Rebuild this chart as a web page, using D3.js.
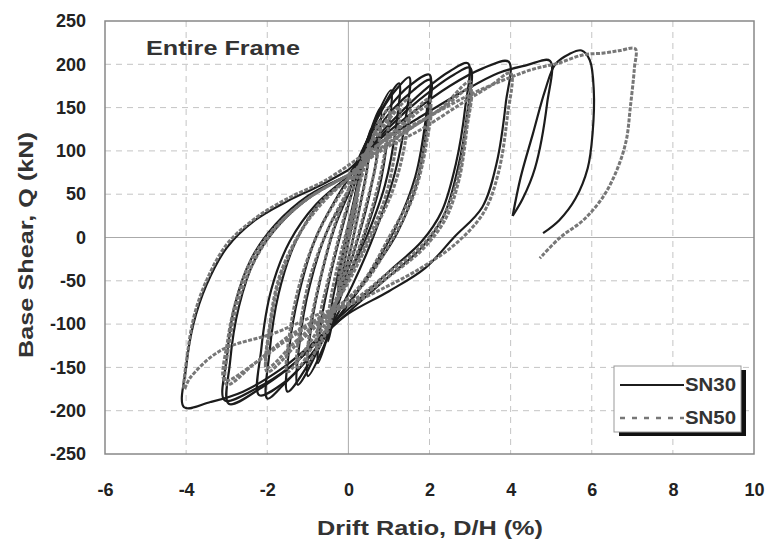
<!DOCTYPE html>
<html>
<head>
<meta charset="utf-8">
<script src="https://cdn.jsdelivr.net/npm/d3@7"></script>
<style>
  body { margin: 0; background: #fff; }
  text { font-family: "Liberation Sans", Arial, sans-serif; font-weight: bold; }
</style>
</head>
<body>
<div id="graphe"></div>
<script>
// ticks
var xTicks = [-6, -4, -2, 0, 2, 4, 6, 8, 10];
var yTicks = [-250, -200, -150, -100, -50, 0, 50, 100, 150, 200, 250];
var seriesNames = ["SN30", "SN50"];

// SN30 : cycles (drift %, shear kN)
var sn30 = [
  [[0,0],[0.12,35],[0.25,70],[0.18,35],[0.0,-5],[-0.12,-35],[-0.25,-65],[-0.18,-30],[0.0,5]],
  [[0,5],[0.2,55],[0.4,100],[0.55,125],[0.48,85],[0.3,40],[0.05,-15],[-0.2,-60],[-0.4,-100],[-0.5,-120],[-0.42,-80],[-0.22,-35],[0.0,15]],
  [[0,15],[0.3,75],[0.6,130],[0.8,150],[0.72,100],[0.5,45],[0.15,-15],[-0.25,-70],[-0.55,-120],[-0.75,-145],[-0.68,-100],[-0.45,-45],[-0.1,20]],
  [[-0.1,20],[0.3,85],[0.7,140],[1.05,170],[0.98,120],[0.75,55],[0.3,-10],[-0.2,-70],[-0.6,-125],[-1.0,-160],[-0.95,-115],[-0.72,-55],[-0.35,10],[0,50]],
  [[0,50],[0.4,105],[0.85,150],[1.25,178],[1.18,130],[0.9,60],[0.4,-5],[-0.2,-65],[-0.7,-125],[-1.25,-170],[-1.2,-120],[-0.95,-55],[-0.5,10],[0,50]],
  [[0,50],[0.35,100],[0.8,145],[1.2,172],[1.5,185],[1.42,140],[1.15,75],[0.65,5],[0.1,-55],[-0.4,-100],[-0.9,-140],[-1.5,-178],[-1.45,-125],[-1.22,-65],[-0.8,0],[-0.3,45],[0.1,75]],
  [[0.1,75],[0.5,115],[1.0,150],[1.5,175],[2.0,188],[1.93,145],[1.65,70],[1.15,10],[0.4,-50],[-0.3,-95],[-1.0,-140],[-1.6,-170],[-2.0,-186],[-1.95,-135],[-1.72,-65],[-1.3,-5],[-0.7,40],[0,70]],
  [[0,70],[0.5,110],[1.1,148],[1.6,170],[2.02,182],[1.95,135],[1.7,65],[1.2,5],[0.5,-45],[-0.2,-90],[-0.9,-135],[-1.6,-168],[-2.2,-182],[-2.15,-130],[-1.9,-60],[-1.45,-5],[-0.8,38],[0,70]],
  [[0,70],[0.6,110],[1.3,145],[2.0,175],[2.5,192],[2.95,201],[2.88,150],[2.65,85],[2.3,30],[1.8,-5],[1.1,-35],[0.3,-70],[-0.4,-100],[-1.2,-140],[-2.1,-172],[-2.95,-192],[-2.92,-145],[-2.7,-80],[-2.3,-25],[-1.7,15],[-0.9,48],[0,72]],
  [[0,72],[0.7,112],[1.4,145],[2.1,172],[2.6,188],[3.0,196],[2.92,140],[2.7,80],[2.35,25],[1.8,-12],[1.0,-45],[0.2,-78],[-0.5,-108],[-1.4,-148],[-2.3,-175],[-3.05,-188],[-3.0,-140],[-2.8,-78],[-2.4,-25],[-1.8,15],[-1.0,48],[0,72]],
  [[0,72],[0.7,110],[1.6,145],[2.5,175],[3.3,195],[3.95,203],[3.88,155],[3.65,85],[3.3,35],[2.6,0],[1.9,-35],[1.0,-62],[0,-88],[-0.7,-115],[-1.6,-150],[-2.6,-178],[-3.4,-190],[-4.05,-196],[-4.0,-150],[-3.82,-100],[-3.5,-55],[-3.0,-12],[-2.3,20],[-1.5,42],[-0.7,60],[0,78]],
  [[0,78],[0.8,110],[1.8,140],[2.8,168],[3.7,190],[4.4,199],[4.97,204],[4.9,155],[4.6,80],[4.3,45],[4.05,25]],
  [[4.05,25],[4.25,70],[4.55,120],[4.85,170],[5.1,200],[5.45,212],[5.75,216],[5.95,205],[6.05,170],[6.02,120],[5.9,80],[5.6,45],[5.2,20],[4.8,5]]
];

// SN50
var sn50 = [
  [[0,0],[0.12,30],[0.25,60],[0.17,28],[0,-5],[-0.12,-30],[-0.25,-58],[-0.17,-25],[0,5]],
  [[0,5],[0.2,50],[0.4,90],[0.52,110],[0.45,75],[0.28,35],[0.02,-20],[-0.22,-60],[-0.42,-95],[-0.52,-110],[-0.45,-75],[-0.25,-30],[0,15]],
  [[0,15],[0.3,65],[0.6,115],[0.78,135],[0.7,90],[0.45,40],[0.1,-20],[-0.3,-70],[-0.6,-115],[-0.78,-130],[-0.7,-90],[-0.45,-40],[-0.1,25]],
  [[-0.1,25],[0.3,80],[0.7,125],[1.0,150],[0.92,105],[0.65,45],[0.2,-20],[-0.3,-75],[-0.7,-120],[-1.0,-145],[-0.93,-100],[-0.68,-45],[-0.3,20],[0,55]],
  [[0,55],[0.4,95],[0.85,130],[1.25,150],[1.17,105],[0.9,45],[0.35,-15],[-0.2,-65],[-0.7,-110],[-1.25,-150],[-1.18,-100],[-0.92,-42],[-0.45,15],[0,55]],
  [[0,55],[0.4,95],[0.9,130],[1.5,160],[1.42,115],[1.1,55],[0.5,-5],[-0.1,-60],[-0.6,-95],[-1.0,-125],[-1.5,-155],[-1.43,-105],[-1.15,-45],[-0.7,10],[-0.2,50],[0.2,75]],
  [[0.2,75],[0.7,105],[1.3,130],[2.0,160],[1.93,120],[1.6,55],[1.0,0],[0.3,-55],[-0.5,-90],[-1.2,-120],[-2.0,-155],[-1.95,-110],[-1.7,-50],[-1.25,0],[-0.7,40],[0,68]],
  [[0,68],[0.6,100],[1.3,128],[2.0,152],[1.93,110],[1.62,50],[1.05,-5],[0.3,-58],[-0.5,-88],[-1.3,-120],[-2.0,-150],[-1.95,-105],[-1.7,-45],[-1.2,5],[-0.6,42],[0,68]],
  [[0,68],[0.7,100],[1.5,125],[2.3,150],[3.0,180],[2.9,130],[2.7,70],[2.35,25],[1.8,-10],[1.0,-40],[0.2,-70],[-0.6,-90],[-1.5,-115],[-2.3,-145],[-3.0,-170],[-2.95,-125],[-2.72,-75],[-2.35,-30],[-1.8,10],[-1.0,45],[0,72]],
  [[0,72],[0.8,102],[1.6,128],[2.4,152],[3.0,172],[2.92,125],[2.72,65],[2.38,20],[1.8,-15],[1.0,-45],[0.2,-72],[-0.6,-92],[-1.5,-118],[-2.3,-145],[-3.05,-165],[-2.98,-120],[-2.75,-70],[-2.38,-25],[-1.8,12],[-1.0,45],[0,72]],
  [[0,72],[0.8,100],[1.8,125],[2.8,155],[3.5,175],[4.0,190],[3.92,140],[3.7,75],[3.35,30],[2.7,-5],[1.8,-35],[0.8,-60],[-0.1,-80],[-0.7,-88],[-1.8,-110],[-3.17,-131],[-3.9,-162],[-4.05,-175],[-3.97,-135],[-3.8,-90],[-3.5,-50],[-3.0,-8],[-2.3,22],[-1.5,45],[-0.6,65],[0.2,90]],
  [[0.2,90],[1.0,115],[2.0,140],[3.0,165],[4.0,185],[4.6,195],[5.15,201],[5.8,211],[6.3,213],[6.7,216],[7.07,218],[7.05,195],[6.95,150],[6.85,112],[6.62,78],[6.28,47],[5.79,20],[5.22,0],[4.72,-24]]
];

var largeur = 767, hauteur = 541;
var gauche = 105, droite = 754, haut = 21, bas = 454;

var svg = d3.select("#graphe").append("svg").attr("width", largeur).attr("height", hauteur);

var x = d3.scaleLinear().domain([-6, 10]).range([gauche, droite]);
var y = d3.scaleLinear().domain([-250, 250]).range([bas, haut]);

// grille
xTicks.forEach(function (t) {
  if (t == -6 || t == 10) return;
  svg.append("line").attr("x1", x(t)).attr("x2", x(t)).attr("y1", haut).attr("y2", bas)
    .style("stroke", t == 0 ? "#aaa" : "#c4c4c4").style("stroke-width", 1)
    .style("stroke-dasharray", t == 0 ? null : "6,5");
});
yTicks.forEach(function (t) {
  if (t == -250 || t == 250) return;
  svg.append("line").attr("x1", gauche).attr("x2", droite).attr("y1", y(t)).attr("y2", y(t))
    .style("stroke", t == 0 ? "#aaa" : "#c4c4c4").style("stroke-width", 1)
    .style("stroke-dasharray", t == 0 ? null : "6,5");
});

// cadre
svg.append("rect").attr("x", gauche).attr("y", haut).attr("width", droite - gauche).attr("height", bas - haut)
  .style("fill", "none").style("stroke", "#888").style("stroke-width", 1.5);

// axes (seulement les libellés)
var fmt = function (d) { return String(d); };
var axeX = svg.append("g").attr("transform", "translate(0," + (bas + 26) + ")")
  .call(d3.axisBottom(x).tickValues(xTicks).tickSize(0).tickFormat(fmt));
axeX.select(".domain").remove();
axeX.selectAll("text").style("font-size", "18px").style("fill", "#222");

var axeY = svg.append("g").attr("transform", "translate(" + (gauche - 16) + ",0)")
  .call(d3.axisLeft(y).tickValues(yTicks).tickSize(0).tickFormat(fmt));
axeY.select(".domain").remove();
axeY.selectAll("text").style("font-size", "18px").style("fill", "#222");

// titres
svg.append("text").attr("x", 317).attr("y", 535)
  .attr("textLength", 226).attr("lengthAdjust", "spacingAndGlyphs")
  .style("font-size", "21px").style("fill", "#333").text("Drift Ratio, D/H (%)");
svg.append("text").attr("transform", "translate(33,358) rotate(-90)")
  .attr("textLength", 226).attr("lengthAdjust", "spacingAndGlyphs")
  .style("font-size", "21px").style("fill", "#333").text("Base Shear, Q (kN)");
svg.append("text").attr("x", 146).attr("y", 55)
  .attr("textLength", 154).attr("lengthAdjust", "spacingAndGlyphs")
  .style("font-size", "21px").style("fill", "#333").text("Entire Frame");

// courbes : SN30 dessous, SN50 (gris) par-dessus comme sur la figure
var ligne = d3.line().x(function (d) { return x(d[0]); }).y(function (d) { return y(d[1]); })
  .curve(d3.curveCatmullRom.alpha(0.5));

svg.append("clipPath").attr("id", "zone").append("rect")
  .attr("x", gauche).attr("y", haut).attr("width", droite - gauche).attr("height", bas - haut);
var courbes = svg.append("g").attr("clip-path", "url(#zone)");

courbes.selectAll("path.sn30").data(sn30).enter().append("path")
  .attr("class", "sn30").attr("d", ligne)
  .style("fill", "none").style("stroke", "#1c1c1c").style("stroke-width", 2.2);

courbes.selectAll("path.sn50").data(sn50).enter().append("path")
  .attr("class", "sn50").attr("d", ligne)
  .style("fill", "none").style("stroke", "#777").style("stroke-width", 3)
  .style("stroke-dasharray", "4,1.5");

// légende
var leg = svg.append("g");
leg.append("rect").attr("x", 619).attr("y", 370).attr("width", 127).attr("height", 66).style("fill", "#111");
leg.append("rect").attr("x", 614).attr("y", 366).attr("width", 127).attr("height", 66)
  .style("fill", "#fff").style("stroke", "#999").style("stroke-width", 1);
seriesNames.forEach(function (nom, i) {
  var yy = 385 + i * 33;
  leg.append("line").attr("x1", 620).attr("x2", 684).attr("y1", yy).attr("y2", yy)
    .style("stroke", i == 0 ? "#1c1c1c" : "#777").style("stroke-width", i == 0 ? 2 : 2.4)
    .style("stroke-dasharray", i == 0 ? null : "5,7");
  leg.append("text").attr("x", 685).attr("y", yy + 6)
    .attr("textLength", 51).attr("lengthAdjust", "spacingAndGlyphs")
    .style("font-size", "18px").style("fill", "#333").text(nom);
});
</script>
</body>
</html>
